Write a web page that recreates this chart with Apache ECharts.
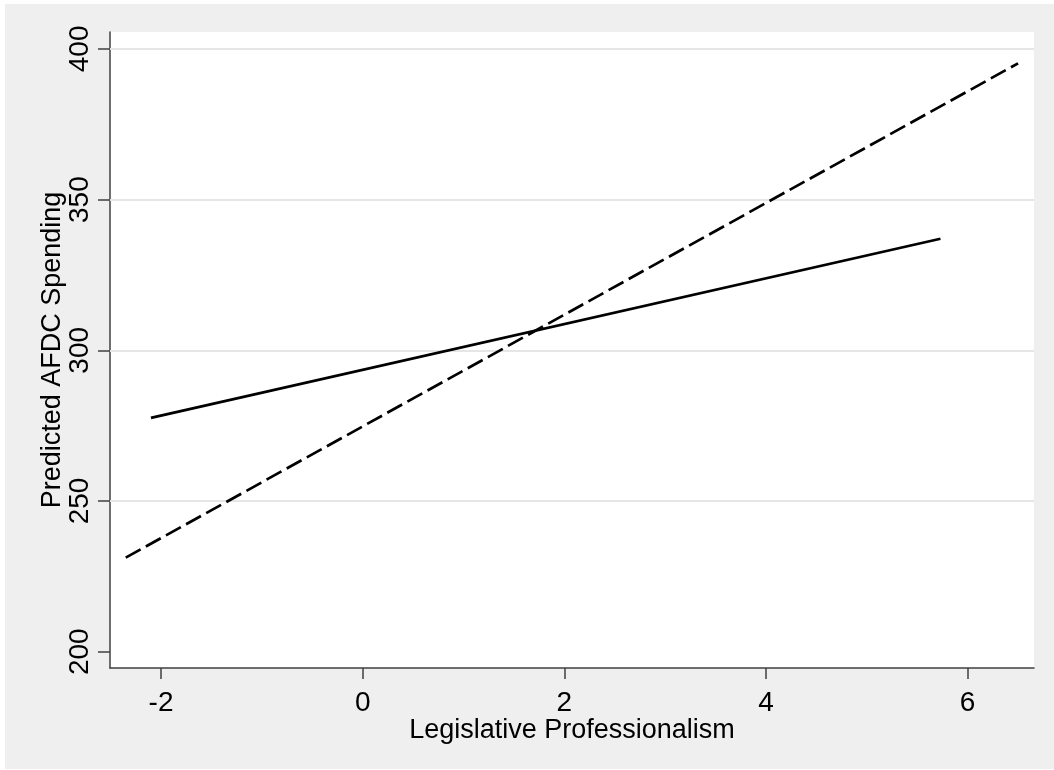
<!DOCTYPE html>
<html>
<head>
<meta charset="utf-8">
<script src="https://cdn.jsdelivr.net/npm/echarts@6/dist/echarts.min.js"></script>
<style>
  html, body { margin: 0; padding: 0; background: #ffffff; }
  #bg { position: absolute; left: 5px; top: 4px; width: 1049px; height: 765px; background: #efefef; }
  #chart { position: absolute; left: 0; top: 0; width: 1054px; height: 770px; }
</style>
</head>
<body>
<div id="bg"></div>
<div id="chart"></div>
<script>
// Data
const solidX = [-2.10, 5.73];
const solidY = [277.6, 337.0];
const dashedX = [-2.35, 6.50];
const dashedY = [231.2, 395.2];
const xTicks = [-2, 0, 2, 4, 6];
const yTicks = [200, 250, 300, 350, 400];
const yGridValues = [250, 300, 350, 400];
const xTitle = 'Legislative Professionalism';
const yTitle = 'Predicted AFDC Spending';

const FONT = '"Liberation Sans", Arial, Helvetica, sans-serif';

function pairs(xs, ys) { return xs.map((x, i) => [x, ys[i]]); }

const chart = echarts.init(document.getElementById('chart'), null, { renderer: 'canvas' });
chart.setOption({
  backgroundColor: 'transparent',
  animation: false,
  grid: { left: 110, top: 32, width: 924, height: 636, show: true, backgroundColor: '#ffffff', borderWidth: 0 },
  xAxis: {
    type: 'value',
    min: -2.506, max: 6.658,
    name: xTitle,
    nameLocation: 'middle',
    nameGap: 49,
    nameMoveOverlap: false,
    nameTextStyle: { fontFamily: FONT, fontSize: 27, color: '#000' },
    axisLine: { show: true, onZero: false, lineStyle: { color: '#404040', width: 1.5 } },
    axisTick: { show: true, length: 11, customValues: xTicks, lineStyle: { color: '#404040', width: 1.5 } },
    axisLabel: { customValues: xTicks, margin: 21, fontFamily: FONT, fontSize: 28, color: '#000' },
    splitLine: { show: false }
  },
  yAxis: {
    type: 'value',
    min: 194.6, max: 405.6,
    name: yTitle,
    nameLocation: 'middle',
    nameGap: 44,
    nameRotate: 90,
    nameMoveOverlap: false,
    nameTextStyle: { fontFamily: FONT, fontSize: 27, color: '#000' },
    axisLine: { show: true, onZero: false, lineStyle: { color: '#404040', width: 1.5 } },
    axisTick: { show: true, length: 12, customValues: yTicks, lineStyle: { color: '#404040', width: 1.5 } },
    axisLabel: { customValues: yTicks, rotate: 90, margin: 16, fontFamily: FONT, fontSize: 28, color: '#000' },
    splitLine: { show: false }
  },
  series: [
    {
      type: 'line',
      data: pairs(dashedX, dashedY),
      symbol: 'none',
      z: 3,
      lineStyle: { color: '#000', width: 2.7, type: [17, 6], cap: 'butt' },
      markLine: {
        silent: true,
        symbol: 'none',
        label: { show: false },
        z: 1,
        lineStyle: { color: '#e6e6e6', width: 2, type: 'solid' },
        data: yGridValues.map(v => ({ yAxis: v }))
      }
    },
    {
      type: 'line',
      data: pairs(solidX, solidY),
      symbol: 'none',
      z: 3,
      lineStyle: { color: '#000', width: 2.7, type: 'solid' }
    }
  ]
});
</script>
</body>
</html>
